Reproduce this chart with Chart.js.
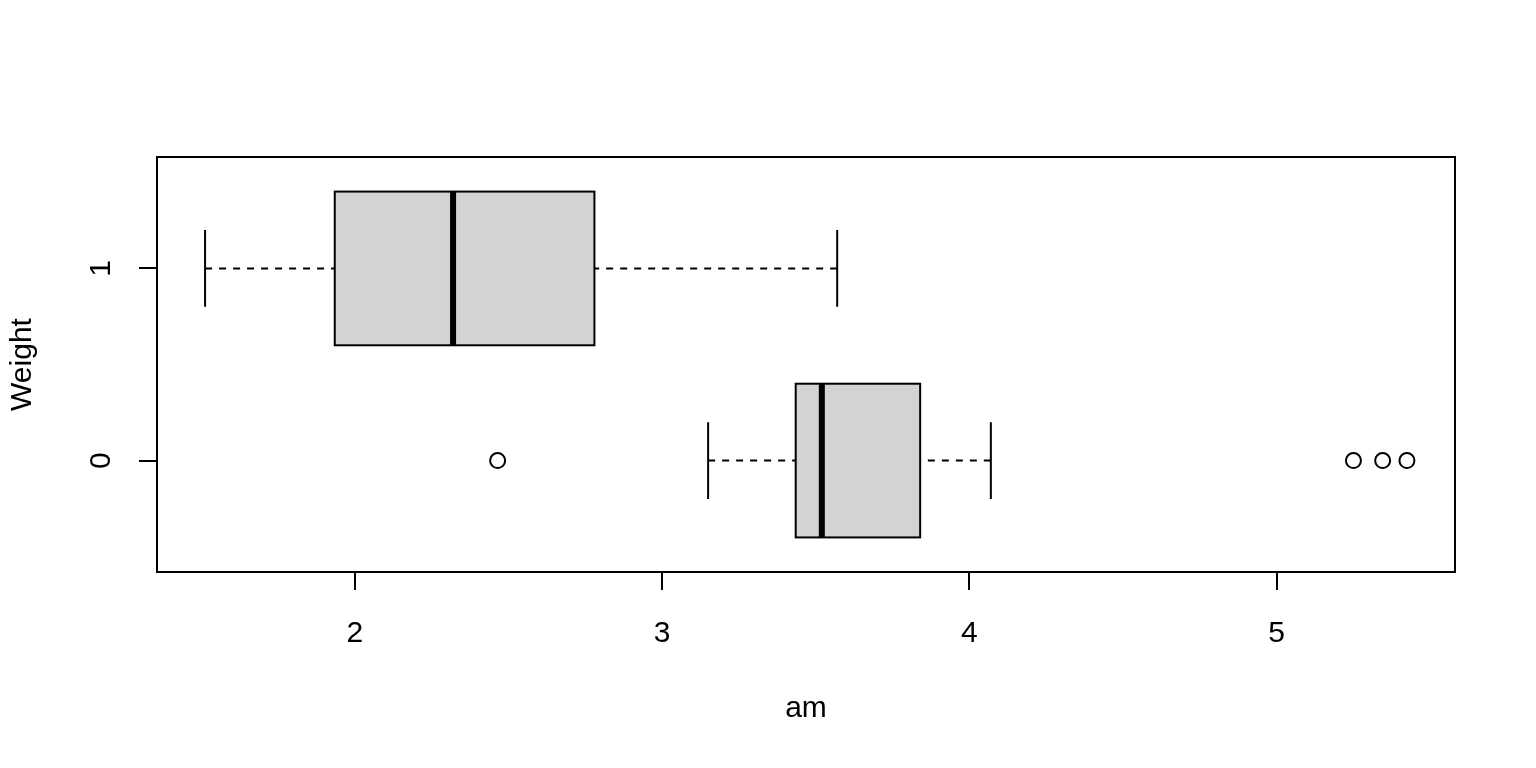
<!DOCTYPE html>
<html>
<head>
<meta charset="utf-8">
<script src="https://cdn.jsdelivr.net/npm/chart.js@4/dist/chart.umd.min.js"></script>
<style>
    html, body { margin: 0; padding: 0; background: #ffffff; }
    #wrap { width: 1536px; height: 768px; }
</style>
</head>
<body>
<div id="wrap"><canvas id="chart" width="1536" height="768"></canvas></div>
<script>
// Boxplot of car weight by transmission (am), R style

// groups, bottom to top
const categories = ['0', '1'];
const lowerWhisker = [3.15, 1.513];
const lowerHinge = [3.435, 1.935];
const medians = [3.52, 2.32];
const upperHinge = [3.84, 2.78];
const upperWhisker = [4.07, 3.57];
const outliers = [[2.465, 5.25, 5.345, 5.424], []];
const xTickValues = [2, 3, 4, 5];

const xTitle = 'am';
const yTitle = 'Weight';

const FONT = "'Liberation Sans', Arial, sans-serif";
const BOX_HALF = 0.4;     // half box height in group units
const STAPLE_HALF = 0.2;  // half staple length
const LINE = 2;

// range like R: data range padded by 4%
const allValues = lowerWhisker.concat(upperWhisker, ...outliers);
const dataMin = Math.min(...allValues);
const dataMax = Math.max(...allValues);
const pad = (dataMax - dataMin) * 0.04;

const outlierPoints = [];
outliers.forEach((vals, i) => {
    vals.forEach(v => outlierPoints.push({ x: v, y: i + 1 }));
});

// Draws boxes, whiskers, frame and the rotated y tick labels
const boxplotPlugin = {
    id: 'boxplot',
    beforeDatasetsDraw(chart) {
        const { ctx, chartArea, scales } = chart;
        const xs = scales.x, ys = scales.y;
        ctx.save();
        ctx.strokeStyle = '#000';
        ctx.lineWidth = LINE;
        categories.forEach((cat, i) => {
            const pos = i + 1;
            const yc = ys.getPixelForValue(pos);
            const yTop = ys.getPixelForValue(pos + BOX_HALF);
            const yBot = ys.getPixelForValue(pos - BOX_HALF);
            const sTop = ys.getPixelForValue(pos + STAPLE_HALF);
            const sBot = ys.getPixelForValue(pos - STAPLE_HALF);
            const xLw = xs.getPixelForValue(lowerWhisker[i]);
            const xQ1 = xs.getPixelForValue(lowerHinge[i]);
            const xMed = xs.getPixelForValue(medians[i]);
            const xQ3 = xs.getPixelForValue(upperHinge[i]);
            const xUw = xs.getPixelForValue(upperWhisker[i]);

            // dashed whiskers, drawn from whisker end towards the box
            ctx.setLineDash([7, 7]);
            ctx.beginPath();
            ctx.moveTo(xLw, yc); ctx.lineTo(xQ1, yc);
            ctx.moveTo(xUw, yc); ctx.lineTo(xQ3, yc);
            ctx.stroke();
            ctx.setLineDash([]);

            // staples
            ctx.beginPath();
            ctx.moveTo(xLw, sTop); ctx.lineTo(xLw, sBot);
            ctx.moveTo(xUw, sTop); ctx.lineTo(xUw, sBot);
            ctx.stroke();

            // box
            ctx.fillStyle = '#d3d3d3';
            ctx.fillRect(xQ1, yTop, xQ3 - xQ1, yBot - yTop);
            ctx.strokeRect(xQ1, yTop, xQ3 - xQ1, yBot - yTop);

            // median
            ctx.lineWidth = 6;
            ctx.lineCap = 'butt';
            ctx.beginPath();
            ctx.moveTo(xMed, yTop); ctx.lineTo(xMed, yBot);
            ctx.stroke();
            ctx.lineWidth = LINE;
        });

        // frame
        ctx.strokeRect(chartArea.left, chartArea.top,
            chartArea.right - chartArea.left, chartArea.bottom - chartArea.top);

        // y tick labels, parallel to the axis
        ctx.fillStyle = '#000';
        ctx.font = '30px ' + FONT;
        ctx.textAlign = 'center';
        ctx.textBaseline = 'alphabetic';
        categories.forEach((cat, i) => {
            ctx.save();
            ctx.translate(110, ys.getPixelForValue(i + 1));
            ctx.rotate(-Math.PI / 2);
            ctx.fillText(cat, 0, 0);
            ctx.restore();
        });
        ctx.restore();
    }
};

const ctx = document.getElementById('chart').getContext('2d');
new Chart(ctx, {
    type: 'scatter',
    data: {
        datasets: [{
            label: 'outliers',
            data: outlierPoints,
            pointStyle: 'circle',
            pointRadius: 7.5,
            pointHoverRadius: 7.5,
            borderWidth: 2,
            borderColor: '#000',
            backgroundColor: 'rgba(0,0,0,0)'
        }]
    },
    options: {
        responsive: false,
        animation: false,
        devicePixelRatio: 1,
        layout: { padding: { top: 157, right: 81, left: 0, bottom: 0 } },
        plugins: {
            legend: { display: false },
            tooltip: { enabled: false }
        },
        scales: {
            x: {
                type: 'linear',
                min: dataMin - pad,
                max: dataMax + pad,
                afterBuildTicks: scale => { scale.ticks = xTickValues.map(v => ({ value: v })); },
                afterFit: scale => { scale.height = 196; },
                border: { display: false },
                grid: { drawOnChartArea: false, drawTicks: true, tickLength: 18, color: '#000', lineWidth: LINE },
                ticks: { color: '#000', font: { family: FONT, size: 30 }, padding: 26, maxRotation: 0 },
                title: {
                    display: true, text: xTitle, color: '#000',
                    font: { family: FONT, size: 30 },
                    padding: { top: 0, bottom: 41 }
                }
            },
            y: {
                type: 'linear',
                min: 0.5 - 0.08,
                max: categories.length + 0.5 + 0.08,
                afterBuildTicks: scale => { scale.ticks = categories.map((c, i) => ({ value: i + 1 })); },
                afterFit: scale => { scale.width = 157; },
                border: { display: false },
                grid: { drawOnChartArea: false, drawTicks: true, tickLength: 18, color: '#000', lineWidth: LINE },
                ticks: { display: false },
                title: {
                    display: true, text: yTitle, color: '#000',
                    font: { family: FONT, size: 30 },
                    padding: { top: 5, bottom: 0 }
                }
            }
        }
    },
    plugins: [boxplotPlugin]
});
</script>
</body>
</html>
